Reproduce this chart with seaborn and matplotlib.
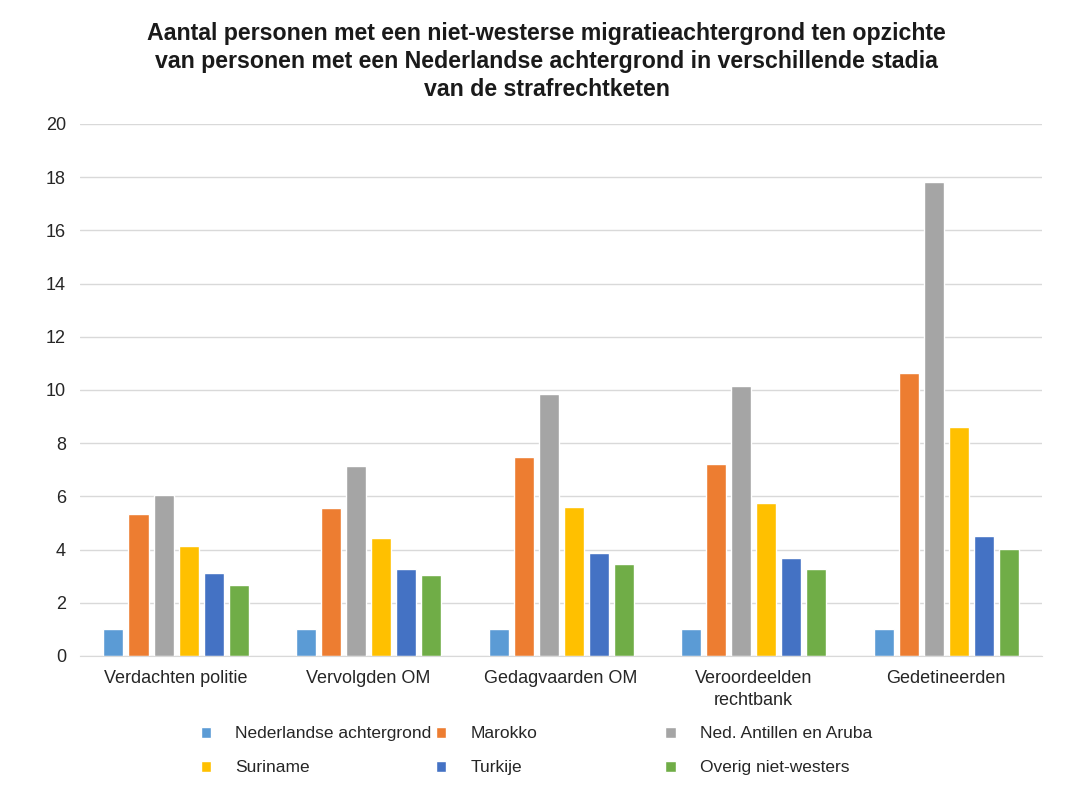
import pandas as pd
import matplotlib
matplotlib.use("Agg")
import matplotlib.pyplot as plt
import seaborn as sns

# categories (stages of the criminal justice chain)
stages = ["Verdachten politie", "Vervolgden OM", "Gedagvaarden OM",
          "Veroordeelden\nrechtbank", "Gedetineerden"]

groups = ["Nederlandse achtergrond", "Marokko", "Ned. Antillen en Aruba",
          "Suriname", "Turkije", "Overig niet-westers"]

# values, per group over the stages
nederland = [1.0, 1.0, 1.0, 1.0, 1.0]
marokko = [5.33, 5.55, 7.49, 7.22, 10.65]
antillen = [6.04, 7.14, 9.85, 10.15, 17.81]
suriname = [4.15, 4.45, 5.61, 5.74, 8.62]
turkije = [3.11, 3.26, 3.86, 3.70, 4.52]
overig = [2.67, 3.03, 3.45, 3.27, 4.02]

colors = ["#5B9BD5", "#ED7D31", "#A5A5A5", "#FFC000", "#4472C4", "#70AD47"]

series = [nederland, marokko, antillen, suriname, turkije, overig]
rows = []
for g, vals in zip(groups, series):
    for s, v in zip(stages, vals):
        rows.append({"stage": s, "group": g, "value": v})
df = pd.DataFrame(rows)

sns.set_style("white")
plt.rcParams["font.family"] = ["Liberation Sans", "DejaVu Sans"]

fig = plt.figure(figsize=(10.78, 7.87), dpi=100)
ax = fig.add_axes([0.074, 0.1665, 0.893, 0.676])

sns.barplot(data=df, x="stage", y="value", hue="group", order=stages,
            hue_order=groups, palette=colors, width=0.78, gap=0.2,
            saturation=1, ax=ax, legend=True)

ax.set_ylim(0, 20)
ax.set_yticks(range(0, 21, 2))
ax.set_xlabel("")
ax.set_ylabel("")
ax.grid(axis="y", color="#D9D9D9", linewidth=1)
ax.set_axisbelow(True)
for side in ["top", "right", "left"]:
    ax.spines[side].set_visible(False)
ax.spines["bottom"].set_color("#D9D9D9")
ax.tick_params(axis="both", length=0, labelsize=13, colors="#262626")
ax.tick_params(axis="y", pad=10)
ax.tick_params(axis="x", pad=10)
for t in ax.get_xticklabels():
    t.set_linespacing(1.4)

# legend below: three fixed-width columns, filled row by row
handles, labels = ax.get_legend_handles_labels()
ax.get_legend().remove()
col_x = [0.186, 0.404, 0.617]
for c, x in enumerate(col_x):
    idx = [c, c + 3]
    leg = fig.legend([handles[i] for i in idx], [labels[i] for i in idx],
                     loc="upper left", bbox_to_anchor=(x, 0.077), ncol=1,
                     frameon=False, fontsize=12.5, handlelength=0.6,
                     handleheight=0.6, handletextpad=1.4, labelspacing=1.1,
                     borderpad=0, borderaxespad=0, labelcolor="#262626")

fig.text(0.507, 0.972,
         "Aantal personen met een niet-westerse migratieachtergrond ten opzichte\n"
         "van personen met een Nederlandse achtergrond in verschillende stadia\n"
         "van de strafrechtketen",
         ha="center", va="top", fontsize=16.7, fontweight="bold",
         color="#1a1a1a", linespacing=1.28)

fig.savefig("out.png", dpi=100, facecolor="white")
